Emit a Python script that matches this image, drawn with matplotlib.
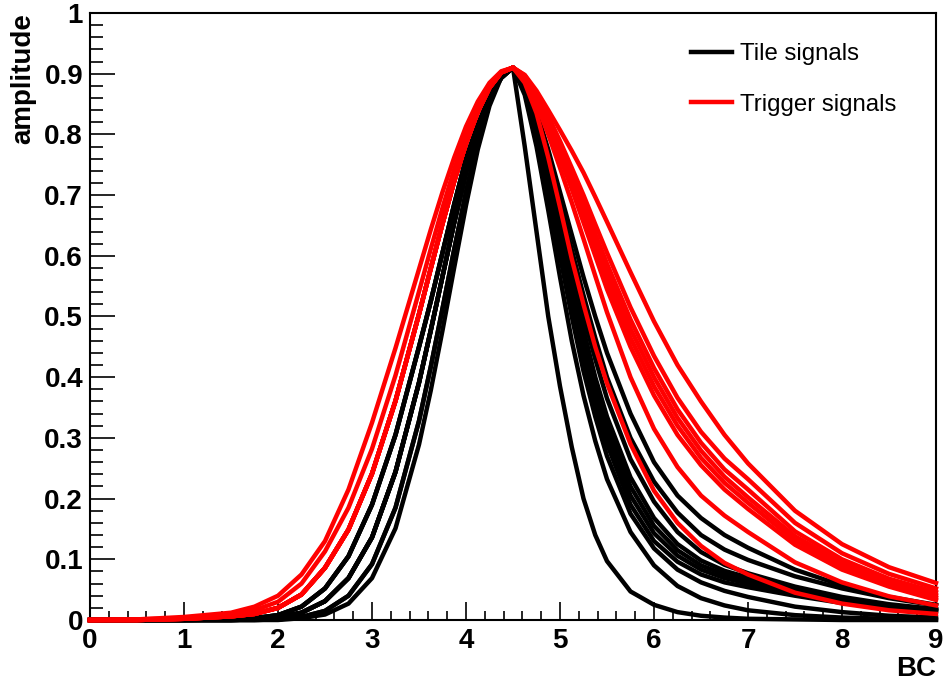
import matplotlib
matplotlib.use("Agg")
import matplotlib.pyplot as plt
from matplotlib.ticker import MultipleLocator, FuncFormatter
from matplotlib.lines import Line2D
from matplotlib.patches import Rectangle

plt.rcParams['font.family'] = ['Liberation Sans', 'DejaVu Sans']

# Sample positions (bunch crossings) for the leading and trailing edges
RISE_X = [0.0, 0.5, 1.0, 1.5, 1.75, 2.0, 2.25, 2.5, 2.75, 3.0, 3.25, 3.5,
          3.625, 3.75, 3.875, 4.0, 4.125, 4.25, 4.375, 4.5]
FALL_X = [4.5, 4.625, 4.75, 4.875, 5.0, 5.125, 5.25, 5.375, 5.5, 5.75, 6.0,
          6.25, 6.5, 6.75, 7.0, 7.5, 8.0, 8.5, 9.0]

# Leading edges (amplitude at RISE_X)
tile_rise_early = [0, 0, 0, .001, .003, .008, .022, .052, .105, .19, .305, .45,
                   .525, .605, .685, .76, .815, .862, .893, .91]
tile_rise_mid = [0, 0, 0, 0, .001, .004, .012, .031, .069, .136, .244, .391,
                 .477, .566, .655, .737, .808, .863, .898, .91]
tile_rise_late = [0, 0, 0, 0, 0, .001, .005, .015, .040, .092, .185, .328,
                  .417, .513, .611, .705, .788, .854, .896, .91]
tile_rise_latest = [0, 0, 0, 0, 0, 0, .003, .009, .027, .069, .151, .289,
                    .378, .477, .581, .683, .775, .847, .894, .91]

trig_rise_outer = [0, .001, .005, .012, .022, .04, .075, .13, .215, .325, .448, .578,
                   .643, .705, .762, .813, .854, .885, .904, .91]
trig_rise_second = [0, .001, .003, .009, .016, .03, .06, .113, .185, .282, .403, .541,
                    .611, .679, .743, .799, .846, .881, .903, .91]
trig_rise_inner = [0, 0, .002, .006, .01, .02, .042, .086, .149, .241, .361, .504,
                   .579, .653, .723, .785, .837, .877, .902, .91]

# Trailing edges (amplitude at FALL_X)
tile_fall_0 = [.91, .78, .64, .50, .385, .285, .20, .14, .097, .047, .025, .013, .007, .004, .002, .001, 0, 0, 0]
tile_fall_1 = [.91, .865, .78, .675, .565, .46, .37, .295, .232, .145, .09, .056, .036, .024, .016, .008, .004, .002, .001]
tile_fall_2 = [.91, .87, .795, .70, .60, .50, .41, .335, .27, .175, .118, .083, .062, .048, .038, .022, .013, .007, .004]
tile_fall_3 = [.91, .872, .80, .71, .612, .515, .43, .355, .29, .19, .13, .096, .075, .062, .054, .040, .028, .020, .014]
tile_fall_4 = [.91, .874, .805, .72, .625, .53, .445, .37, .305, .205, .143, .106, .083, .069, .060, .044, .031, .022, .015]
tile_fall_5 = [.91, .876, .81, .728, .638, .545, .46, .385, .32, .22, .155, .115, .09, .075, .065, .047, .033, .023, .016]
tile_fall_6 = [.91, .878, .815, .735, .65, .56, .478, .40, .335, .235, .168, .125, .098, .081, .070, .050, .035, .024, .017]
tile_fall_7 = [.91, .88, .82, .745, .665, .58, .50, .43, .365, .265, .195, .145, .112, .091, .077, .055, .038, .026, .018]
tile_fall_8 = [.91, .882, .83, .76, .685, .61, .535, .465, .40, .30, .228, .177, .14, .116, .099, .072, .052, .036, .024]
tile_fall_9 = [.91, .885, .838, .775, .705, .635, .565, .50, .44, .34, .26, .205, .168, .14, .119, .083, .057, .038, .025]

trig_fall_0 = [.91, .885, .835, .762, .68, .595, .52, .45, .39, .29, .213, .16, .122, .094, .075, .045, .027, .016, .010]
trig_fall_1 = [.91, .89, .85, .80, .745, .688, .628, .567, .507, .40, .315, .252, .205, .172, .145, .095, .062, .039, .024]
trig_fall_2 = [.91, .893, .858, .812, .762, .71, .655, .60, .545, .45, .37, .305, .255, .215, .183, .124, .083, .055, .033]
trig_fall_3 = [.91, .894, .86, .816, .768, .718, .665, .612, .56, .465, .385, .32, .267, .226, .193, .131, .089, .058, .037]
trig_fall_4 = [.91, .895, .862, .82, .774, .725, .675, .624, .573, .48, .40, .333, .279, .236, .202, .138, .094, .062, .041]
trig_fall_5 = [.91, .896, .864, .824, .78, .733, .685, .636, .587, .495, .415, .347, .292, .248, .215, .146, .10, .068, .046]
trig_fall_6 = [.91, .897, .867, .83, .789, .745, .70, .652, .605, .515, .435, .366, .31, .266, .232, .16, .11, .076, .052]
trig_fall_7 = [.91, .898, .872, .84, .807, .773, .737, .697, .656, .573, .492, .42, .36, .305, .258, .18, .125, .087, .061]

# Each pulse = (leading edge, trailing edge)
tile_pulses = [
    (tile_rise_latest, tile_fall_0),
    (tile_rise_late, tile_fall_1),
    (tile_rise_late, tile_fall_2),
    (tile_rise_mid, tile_fall_3),
    (tile_rise_mid, tile_fall_4),
    (tile_rise_mid, tile_fall_5),
    (tile_rise_mid, tile_fall_6),
    (tile_rise_early, tile_fall_7),
    (tile_rise_early, tile_fall_8),
    (tile_rise_early, tile_fall_9),
]
trigger_pulses = [
    (trig_rise_inner, trig_fall_0),
    (trig_rise_inner, trig_fall_1),
    (trig_rise_inner, trig_fall_2),
    (trig_rise_inner, trig_fall_3),
    (trig_rise_inner, trig_fall_4),
    (trig_rise_inner, trig_fall_5),
    (trig_rise_second, trig_fall_6),
    (trig_rise_outer, trig_fall_7),
]

legend_labels = ["Tile signals", "Trigger signals"]

W, H = 944, 682
fig = plt.figure(figsize=(W / 100, H / 100), dpi=100)
ax = fig.add_axes([90 / W, 1 - 620 / H, (936 - 90) / W, (620 - 13) / H])

LW = 3.2
x_full = RISE_X[:-1] + FALL_X
for rise, fall in tile_pulses:
    ax.plot(x_full, rise[:-1] + fall, color='black', lw=LW, clip_on=False,
            zorder=3, solid_joinstyle='round')
for rise, fall in trigger_pulses:
    ax.plot(x_full, rise[:-1] + fall, color='red', lw=LW, clip_on=False,
            zorder=4, solid_joinstyle='round')

ax.set_xlim(0, 9)
ax.set_ylim(0, 1)

for sp in ax.spines.values():
    sp.set_linewidth(1.5)

ax.xaxis.set_major_locator(MultipleLocator(1))
ax.xaxis.set_minor_locator(MultipleLocator(0.2))
ax.yaxis.set_major_locator(MultipleLocator(0.1))
ax.yaxis.set_minor_locator(MultipleLocator(0.02))
fmt = FuncFormatter(lambda v, p: f"{v:g}")
ax.xaxis.set_major_formatter(fmt)
ax.yaxis.set_major_formatter(fmt)

ax.tick_params(which='both', direction='in', top=False, right=False, width=1.2)
ax.tick_params(axis='y', which='major', length=18, pad=5)
ax.tick_params(axis='y', which='minor', length=9)
ax.tick_params(axis='x', which='major', length=13, pad=6)
ax.tick_params(axis='x', which='minor', length=6.5)
for lab in ax.get_xticklabels() + ax.get_yticklabels():
    lab.set_fontsize(20)
    lab.set_fontweight('bold')

ax.set_xlabel("BC", loc='right', fontsize=20, fontweight='bold', labelpad=1)
ax.set_ylabel("amplitude", loc='top', fontsize=20, fontweight='bold', labelpad=6)

handles = [Line2D([], [], color='black', lw=LW), Line2D([], [], color='red', lw=LW)]
ax.legend(handles, legend_labels, loc='upper left',
          bbox_to_anchor=(691 / W, 1 - 43 / H), bbox_transform=fig.transFigure,
          frameon=False, fontsize=17.3, handlelength=1.71, handletextpad=0.33,
          labelspacing=1.2, borderpad=0, borderaxespad=0)

# faint boxes around the legend samples
for top in (35, 85):
    fig.add_artist(Rectangle((691 / W, 1 - (top + 36) / H), 41 / W, 36 / H,
                             transform=fig.transFigure, fill=False,
                             edgecolor='#eeeeee', lw=1.0, zorder=0))

fig.savefig("out.png", dpi=100)
